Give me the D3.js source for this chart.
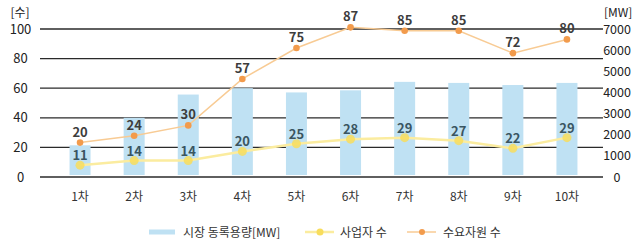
<!DOCTYPE html>
<html>
<head>
<meta charset="utf-8">
<script src="https://cdn.jsdelivr.net/npm/d3@7"></script>
<style>
  body { margin: 0; background: #fff; }
  text { font-family: "Noto Sans CJK KR", "Noto Sans", sans-serif; }
</style>
</head>
<body>
<svg id="svg"></svg>
<script>
const rounds = ["1차", "2차", "3차", "4차", "5차", "6차", "7차", "8차", "9차", "10차"];
const capacityMW = [1500, 2800, 3900, 4200, 4000, 4100, 4500, 4450, 4350, 4450];
const suppliers = [11, 14, 14, 20, 25, 28, 29, 27, 22, 29];
const demandResources = [20, 24, 30, 57, 75, 87, 85, 85, 72, 80];
const leftTicks = [0, 20, 40, 60, 80, 100];
const rightTicks = [0, 1000, 2000, 3000, 4000, 5000, 6000, 7000];
const legendNames = ["시장 동록용량[MW]", "사업자 수", "수요자원 수"];

let layout = {"width": 633, "height": 245, "top": 29, "bottom": 177, "left": 53, "right": 594};

const svg = d3.select("#svg")
              .attr("width", layout.width)
              .attr("height", layout.height);

const data = rounds.map((r, i) => ({"round": r, "mw": capacityMW[i], "sup": suppliers[i], "dem": demandResources[i]}));

let xScale = d3.scaleBand()
               .domain(rounds)
               .range([layout.left, layout.right]);
const cx = d => xScale(d.round) + xScale.bandwidth() / 2;

let yLeft = d3.scaleLinear().domain([0, 100]).range([layout.bottom, layout.top]);
let yRight = d3.scaleLinear().domain([0, 7000]).range([layout.bottom, layout.top]);
// the two lines in the original sit on their own loose scales
let ySup = d3.scaleLinear().domain([0, 100]).range([182, 29]);
let yDem = d3.scaleLinear().domain([0, 100]).range([177, 5]);

// grid
svg.append("g")
   .selectAll("line")
   .data(leftTicks)
   .join("line")
   .attr("x1", 40).attr("x2", 603)
   .attr("y1", d => yLeft(d)).attr("y2", d => yLeft(d))
   .attr("stroke", "#2a2a2a")
   .attr("stroke-width", 1.3);

// left axis
svg.append("g")
   .attr("transform", "translate(20.5,0)")
   .call(d3.axisLeft(yLeft).tickValues(leftTicks).tickSize(0).tickPadding(0))
   .call(g => g.select(".domain").remove())
   .call(g => g.selectAll("text").attr("text-anchor", "middle").attr("font-size", 13)
               .attr("fill", "#222").attr("font-family", "Roboto, sans-serif"));

// right axis
svg.append("g")
   .attr("transform", "translate(617,0)")
   .call(d3.axisRight(yRight).tickValues(rightTicks).tickFormat(d3.format("d")).tickSize(0).tickPadding(0))
   .call(g => g.select(".domain").remove())
   .call(g => g.selectAll("text").attr("text-anchor", "middle").attr("font-size", 12.5)
               .attr("fill", "#222").attr("font-family", "Roboto, sans-serif"));

svg.append("text").attr("x", 20).attr("y", 17).attr("text-anchor", "middle")
   .attr("font-size", 12).attr("fill", "#222").text("[수]");
svg.append("text").attr("x", 604).attr("y", 17)
   .attr("font-size", 12).attr("fill", "#222").attr("font-family", "Roboto, sans-serif").text("[MW]");

// x labels
svg.append("g")
   .attr("transform", `translate(0,${layout.bottom + 15})`)
   .call(d3.axisBottom(xScale).tickSize(0).tickPadding(0))
   .call(g => g.select(".domain").remove())
   .call(g => g.selectAll("text").attr("font-size", 12).attr("fill", "#333")
               .attr("font-family", "'Noto Sans CJK KR', sans-serif"));

// bars
svg.append("g")
   .selectAll("rect")
   .data(data)
   .join("rect")
   .attr("x", d => cx(d) - 10.5)
   .attr("y", d => yRight(d.mw))
   .attr("width", 21)
   .attr("height", d => yRight(0) - yRight(d.mw) - 2)
   .attr("fill", "#bfe1f3");

// supplier line
svg.append("path")
   .datum(data)
   .attr("fill", "none")
   .attr("stroke", "#fbec9f")
   .attr("stroke-width", 2.5)
   .attr("d", d3.line().x(cx).y(d => ySup(d.sup)));

svg.append("g")
   .selectAll("circle")
   .data(data)
   .join("circle")
   .attr("cx", cx)
   .attr("cy", d => ySup(d.sup))
   .attr("r", 4.5)
   .attr("fill", "#f8dd5c")
   .attr("fill-opacity", 0.85);

// demand line
svg.append("path")
   .datum(data)
   .attr("fill", "none")
   .attr("stroke", "#f8cb94")
   .attr("stroke-width", 1.5)
   .attr("d", d3.line().x(cx).y(d => yDem(d.dem)));

svg.append("g")
   .selectAll("circle")
   .data(data)
   .join("circle")
   .attr("cx", cx)
   .attr("cy", d => yDem(d.dem))
   .attr("r", 3.3)
   .attr("fill", "#f29b4c");

// value labels
svg.append("g")
   .selectAll("text")
   .data(data)
   .join("text")
   .attr("x", cx)
   .attr("y", d => ySup(d.sup) - 5)
   .attr("text-anchor", "middle")
   .attr("font-size", 13)
   .attr("font-weight", "bold")
   .attr("font-family", "Roboto, sans-serif")
   .attr("fill", "#3a5561")
   .text(d => d.sup);

svg.append("g")
   .selectAll("text")
   .data(data)
   .join("text")
   .attr("x", cx)
   .attr("y", d => yDem(d.dem) - 6)
   .attr("text-anchor", "middle")
   .attr("font-size", 13)
   .attr("font-weight", "bold")
   .attr("font-family", "Roboto, sans-serif")
   .attr("fill", "#3d3d3d")
   .text(d => d.dem);

// legend
const lg = svg.append("g").attr("transform", "translate(0,232)");
lg.append("rect").attr("x", 149).attr("y", -2.5).attr("width", 26).attr("height", 5).attr("fill", "#bfe1f3");
lg.append("line").attr("x1", 305).attr("x2", 334).attr("stroke", "#fbec9f").attr("stroke-width", 2.5);
lg.append("circle").attr("cx", 320).attr("r", 3.5).attr("fill", "#f8dd5c");
lg.append("line").attr("x1", 407).attr("x2", 436).attr("stroke", "#f8cb94").attr("stroke-width", 1.5);
lg.append("circle").attr("cx", 422).attr("r", 3).attr("fill", "#f29b4c");
lg.selectAll("text")
  .data(legendNames)
  .join("text")
  .attr("x", (d, i) => [183, 340, 443][i])
  .attr("y", 4.5)
  .attr("font-size", 12)
  .attr("fill", "#333")
  .text(d => d);
</script>
</body>
</html>
